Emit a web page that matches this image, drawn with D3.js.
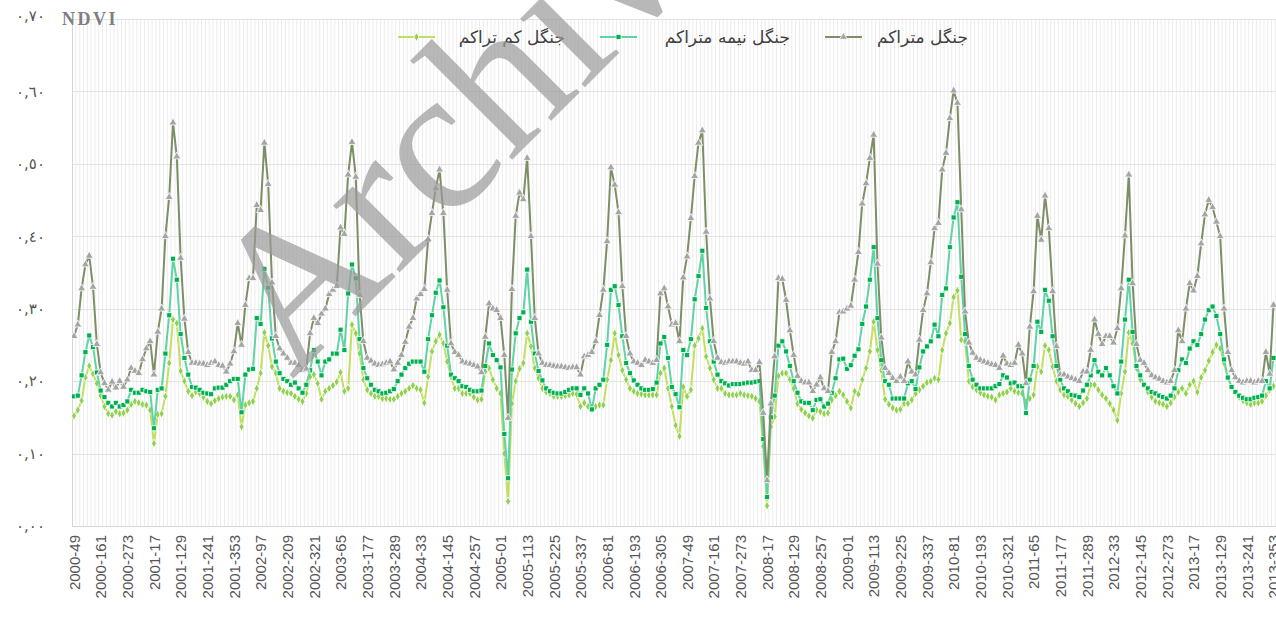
<!DOCTYPE html>
<html>
<head>
<meta charset="utf-8">
<script src="https://cdn.jsdelivr.net/npm/d3@7/dist/d3.min.js"></script>
<style>
  body { margin: 0; background: #fff; }
  svg { display: block; }
</style>
</head>
<body>
<div class="chart"></div>
<script>
// MODIS 16-day composites, one label every 7 points
var tickLabels = ["2000-49","2000-161","2000-273","2001-17","2001-129","2001-241","2001-353",
  "2002-97","2002-209","2002-321","2003-65","2003-177","2003-289","2004-33","2004-145",
  "2004-257","2005-01","2005-113","2005-225","2005-337","2006-81","2006-193","2006-305",
  "2007-49","2007-161","2007-273","2008-17","2008-129","2008-257","2009-01","2009-113",
  "2009-225","2009-337","2010-81","2010-193","2010-321","2011-65","2011-177","2011-289",
  "2012-33","2012-145","2012-273","2013-17","2013-129","2013-241","2013-353"];

var seriesNames = ["جنگل کم تراکم", "جنگل نیمه  متراکم", "جنگل متراکم"];

var yTicks = [0, 0.1, 0.2, 0.3, 0.4, 0.5, 0.6, 0.7];
var yTickLabels = ["٠,٠٠", "٠,١٠", "٠,٢٠", "٠,٣٠", "٠,٤٠", "٠,٥٠", "٠,٦٠", "٠,٧٠"];

// dense forest (one row per year)
var denseValues = [
  0.262,0.278,0.328,0.361,0.373,0.330,0.251,0.212,0.197,0.188,0.199,0.191,0.200,0.192,0.202,0.218,0.214,0.211,0.230,0.245,
  0.255,0.209,0.268,0.300,0.400,0.454,0.557,0.510,0.370,0.286,0.240,0.225,0.225,0.224,0.224,0.222,0.225,0.227,0.222,0.221,0.213,0.224,0.241,
  0.280,0.250,0.305,0.342,0.342,0.443,0.436,0.529,0.472,0.336,0.262,0.245,0.238,0.232,0.225,0.225,0.222,0.215,0.217,0.266,0.287,0.280,0.293,
  0.300,0.320,0.326,0.331,0.412,0.403,0.485,0.530,0.482,0.319,0.255,0.232,0.228,0.224,0.222,0.223,0.225,0.227,0.216,0.225,0.236,0.254,0.275,
  0.287,0.314,0.320,0.327,0.396,0.432,0.466,0.492,0.432,0.326,0.252,0.240,0.236,0.227,0.225,0.224,0.222,0.220,0.212,0.261,0.307,0.300,0.298,
  0.287,0.236,0.149,0.327,0.428,0.460,0.451,0.508,0.400,0.287,0.238,0.225,0.222,0.222,0.221,0.220,0.220,0.219,0.218,0.219,0.219,0.209,0.234,
  0.236,0.240,0.255,0.291,0.326,0.393,0.495,0.471,0.433,0.331,0.262,0.238,0.227,0.225,0.222,0.229,0.227,0.225,0.229,0.321,0.328,0.303,0.278,
  0.280,0.255,0.343,0.372,0.425,0.483,0.529,0.546,0.406,0.314,0.255,0.232,0.226,0.225,0.227,0.227,0.227,0.225,0.224,0.227,0.215,0.215,0.226,
  0.156,0.063,0.169,0.234,0.342,0.341,0.312,0.270,0.236,0.207,0.200,0.198,0.198,0.186,0.195,0.205,0.190,0.186,0.240,0.255,0.295,0.296,
  0.300,0.304,0.340,0.378,0.445,0.473,0.508,0.540,0.362,0.260,0.218,0.211,0.204,0.200,0.206,0.200,0.227,0.213,0.209,0.257,0.298,0.321,0.364,
  0.411,0.418,0.492,0.515,0.563,0.601,0.584,0.437,0.296,0.253,0.239,0.232,0.229,0.227,0.225,0.223,0.222,0.218,0.235,0.224,0.222,0.225,
  0.250,0.238,0.197,0.275,0.324,0.428,0.395,0.456,0.411,0.324,0.248,0.209,0.209,0.206,0.204,0.202,0.200,0.213,0.213,0.243,0.285,0.265,0.251,
  0.262,0.262,0.253,0.273,0.328,0.401,0.485,0.335,0.251,0.229,0.225,0.215,0.208,0.205,0.203,0.200,0.198,0.200,0.215,0.270,0.255,0.300,
  0.335,0.325,0.345,0.390,0.430,0.450,0.440,0.420,0.400,0.300,0.240,0.215,0.205,0.200,0.198,0.200,0.200,0.198,0.200,0.200,0.240,0.210,0.305
];

// semi-dense forest
var semiValues = [
  0.179,0.180,0.208,0.240,0.263,0.247,0.212,0.187,0.178,0.170,0.165,0.170,0.165,0.167,0.172,0.188,0.184,0.184,0.188,0.186,
  0.185,0.135,0.188,0.190,0.238,0.291,0.369,0.340,0.265,0.232,0.209,0.192,0.191,0.188,0.184,0.183,0.182,0.190,0.191,0.191,0.195,0.200,0.203,
  0.203,0.157,0.209,0.216,0.217,0.287,0.279,0.355,0.329,0.259,0.227,0.211,0.203,0.200,0.195,0.198,0.190,0.184,0.195,0.215,0.243,0.227,0.208,
  0.227,0.230,0.238,0.238,0.271,0.243,0.321,0.361,0.342,0.258,0.218,0.204,0.195,0.188,0.186,0.183,0.184,0.186,0.189,0.200,0.209,0.218,0.224,
  0.227,0.227,0.227,0.213,0.258,0.291,0.322,0.339,0.302,0.249,0.209,0.204,0.200,0.193,0.192,0.188,0.186,0.186,0.187,0.221,0.252,0.236,0.229,
  0.219,0.127,0.066,0.216,0.266,0.287,0.295,0.354,0.282,0.238,0.214,0.201,0.190,0.186,0.184,0.183,0.183,0.185,0.188,0.190,0.190,0.181,0.190,
  0.183,0.161,0.190,0.195,0.202,0.250,0.326,0.331,0.305,0.262,0.225,0.211,0.201,0.195,0.190,0.188,0.188,0.189,0.198,0.252,0.261,0.232,0.192,
  0.182,0.164,0.243,0.236,0.258,0.313,0.345,0.380,0.301,0.255,0.227,0.209,0.200,0.197,0.194,0.196,0.196,0.196,0.197,0.198,0.198,0.199,0.200,
  0.120,0.040,0.150,0.180,0.249,0.255,0.241,0.221,0.200,0.184,0.172,0.170,0.170,0.160,0.174,0.175,0.165,0.169,0.184,0.204,0.230,0.231,
  0.217,0.222,0.235,0.244,0.279,0.303,0.340,0.385,0.287,0.229,0.200,0.195,0.176,0.176,0.176,0.176,0.197,0.200,0.189,0.219,0.241,0.248,0.255,
  0.278,0.262,0.319,0.328,0.385,0.426,0.447,0.344,0.265,0.221,0.202,0.195,0.190,0.190,0.190,0.190,0.193,0.196,0.208,0.205,0.197,0.198,
  0.193,0.193,0.156,0.202,0.221,0.282,0.268,0.326,0.311,0.262,0.221,0.202,0.190,0.186,0.181,0.180,0.178,0.187,0.195,0.208,0.229,0.213,0.208,
  0.218,0.208,0.193,0.183,0.227,0.285,0.340,0.268,0.221,0.208,0.195,0.190,0.185,0.183,0.180,0.178,0.176,0.180,0.190,0.215,0.230,0.225,
  0.245,0.255,0.250,0.265,0.285,0.298,0.303,0.290,0.265,0.230,0.205,0.192,0.185,0.180,0.177,0.175,0.175,0.177,0.178,0.180,0.200,0.190,0.232
];

// sparse forest
var sparseValues = [
  0.152,0.160,0.173,0.205,0.221,0.210,0.197,0.180,0.165,0.155,0.153,0.158,0.155,0.156,0.160,0.168,0.172,0.170,0.168,0.167,
  0.160,0.114,0.154,0.155,0.179,0.225,0.285,0.280,0.214,0.200,0.186,0.180,0.185,0.183,0.178,0.172,0.169,0.173,0.176,0.178,0.179,0.179,0.174,
  0.181,0.137,0.167,0.170,0.172,0.190,0.211,0.267,0.249,0.220,0.211,0.190,0.186,0.184,0.183,0.179,0.175,0.172,0.183,0.206,0.209,0.197,0.175,
  0.186,0.190,0.194,0.199,0.212,0.186,0.190,0.278,0.266,0.238,0.202,0.188,0.183,0.179,0.179,0.176,0.176,0.175,0.175,0.179,0.183,0.186,0.190,
  0.194,0.190,0.188,0.170,0.206,0.241,0.255,0.264,0.252,0.227,0.206,0.190,0.190,0.183,0.183,0.183,0.178,0.174,0.175,0.213,0.218,0.202,0.190,
  0.183,0.100,0.034,0.169,0.200,0.217,0.225,0.266,0.248,0.218,0.204,0.190,0.185,0.183,0.179,0.179,0.179,0.180,0.181,0.183,0.182,0.165,0.170,
  0.165,0.161,0.165,0.167,0.167,0.202,0.229,0.266,0.236,0.215,0.202,0.190,0.186,0.183,0.182,0.181,0.181,0.181,0.181,0.211,0.218,0.190,0.165,
  0.139,0.124,0.192,0.179,0.188,0.249,0.259,0.273,0.234,0.218,0.202,0.190,0.190,0.183,0.181,0.181,0.181,0.183,0.181,0.180,0.179,0.176,0.172,
  0.110,0.028,0.137,0.151,0.207,0.211,0.211,0.202,0.190,0.169,0.161,0.156,0.152,0.149,0.160,0.158,0.155,0.156,0.174,0.180,0.186,0.181,
  0.172,0.163,0.186,0.182,0.202,0.218,0.241,0.282,0.243,0.215,0.175,0.168,0.163,0.160,0.161,0.169,0.169,0.174,0.183,0.188,0.193,0.198,0.200,
  0.204,0.202,0.243,0.266,0.280,0.316,0.325,0.257,0.255,0.200,0.192,0.188,0.184,0.181,0.179,0.178,0.174,0.181,0.183,0.185,0.190,0.186,
  0.184,0.183,0.172,0.176,0.181,0.220,0.213,0.249,0.243,0.220,0.200,0.188,0.181,0.179,0.174,0.169,0.165,0.170,0.176,0.195,0.195,0.188,0.181,
  0.176,0.169,0.160,0.146,0.183,0.213,0.267,0.252,0.218,0.202,0.195,0.185,0.178,0.172,0.170,0.168,0.165,0.170,0.178,0.185,0.190,0.183,
  0.195,0.200,0.185,0.205,0.215,0.228,0.240,0.250,0.245,0.225,0.205,0.192,0.185,0.178,0.173,0.170,0.168,0.170,0.170,0.172,0.180,0.188,0.193
];

var fullWidth = 1276;
var fullHeight = 622;
var plotLeft = 72;
var plotRight = 1276;
var n = denseValues.length;

var svg = d3
  .select(".chart")
  .append("svg")
  .attr("width", fullWidth)
  .attr("height", fullHeight)
  .style("background", "#fff");

var x = d3
  .scaleLinear()
  .domain([0, 315])
  .range([74, 1273.5]);

var y = d3
  .scaleLinear()
  .domain([0, 0.7])
  .range([526, 19]);

svg.append("clipPath")
  .attr("id", "plotClip")
  .append("rect")
  .attr("x", plotLeft)
  .attr("y", 0)
  .attr("width", plotRight - plotLeft)
  .attr("height", 540);

// vertical category gridlines (between points)
var grid = svg.append("g").attr("clip-path", "url(#plotClip)");
grid.selectAll("line.v")
  .data(d3.range(-1, n))
  .enter()
  .append("line")
  .attr("class", "v")
  .attr("x1", d => x(d + 0.5))
  .attr("x2", d => x(d + 0.5))
  .attr("y1", y(0.7))
  .attr("y2", y(0))
  .attr("stroke", "#ececec")
  .attr("stroke-width", 1);

// horizontal gridlines
grid.selectAll("line.h")
  .data(yTicks.slice(1))
  .enter()
  .append("line")
  .attr("class", "h")
  .attr("x1", plotLeft)
  .attr("x2", plotRight)
  .attr("y1", d => Math.round(y(d)) + 0.5)
  .attr("y2", d => Math.round(y(d)) + 0.5)
  .attr("stroke", "#e3e3e3")
  .attr("stroke-width", 1);

// left axis line
svg.append("line")
  .attr("x1", plotLeft + 0.5).attr("x2", plotLeft + 0.5)
  .attr("y1", y(0.7)).attr("y2", y(0))
  .attr("stroke", "#d4d4d4");

// y axis
var yAxis = svg.append("g")
  .attr("transform", `translate(${plotLeft}, 0)`)
  .call(d3.axisLeft(y)
    .tickValues(yTicks)
    .tickFormat((d, i) => yTickLabels[i])
    .tickSize(0)
    .tickPadding(27));
yAxis.select(".domain").remove();
yAxis.selectAll("text")
  .attr("fill", "#555")
  .style("font-family", "'DejaVu Sans', sans-serif")
  .style("font-size", "15px");
yAxis.selectAll(".tick")
  .filter(d => d === 0.7)
  .select("text")
  .attr("dy", "0.1em");

// x axis
var xAxis = svg.append("g")
  .attr("transform", `translate(0, ${y(0)})`)
  .call(d3.axisBottom(x)
    .tickValues(tickLabels.map((d, k) => k * 7))
    .tickFormat(d => tickLabels[d / 7])
    .tickSize(0));
xAxis.select(".domain")
  .attr("d", `M${plotLeft},0.5H${plotRight}`)
  .attr("stroke", "#d4d4d4");
xAxis.selectAll("text")
  .attr("transform", "rotate(-90)")
  .attr("x", -9)
  .attr("y", 0)
  .attr("dy", "0.35em")
  .style("text-anchor", "end")
  .attr("fill", "#555")
  .style("font-family", "'Liberation Sans', Arial, sans-serif")
  .style("font-size", "15px");

// axis title
svg.append("text")
  .attr("x", 62)
  .attr("y", 25)
  .text("NDVI")
  .attr("fill", "#7f7f7f")
  .style("font-family", "'Liberation Serif', serif")
  .style("font-weight", "bold")
  .style("font-size", "18px")
  .style("letter-spacing", "2.5px");

var series = [
  { name: seriesNames[0], values: sparseValues, line: "#c3df5f", fill: "#92d050", symbol: d3.symbolDiamond, size: 22 },
  { name: seriesNames[1], values: semiValues, line: "#5fd3a5", fill: "#00b050", symbol: d3.symbolSquare, size: 26 },
  { name: seriesNames[2], values: denseValues, line: "#7d8f66", fill: "#a5a5a5", symbol: d3.symbolTriangle, size: 28 }
];

var lineGen = d3.line()
  .x((d, i) => x(i))
  .y(d => y(d));

var plot = svg.append("g").attr("clip-path", "url(#plotClip)");

series.forEach(function(s) {
  plot.append("path")
    .datum(s.values)
    .attr("fill", "none")
    .attr("stroke", s.line)
    .attr("stroke-width", 2)
    .attr("stroke-linejoin", "round")
    .attr("d", lineGen);

  plot.selectAll(null)
    .data(s.values)
    .enter()
    .append("path")
    .attr("transform", (d, i) => `translate(${x(i)}, ${y(d)})`)
    .attr("d", d3.symbol().type(s.symbol).size(s.size))
    .attr("fill", s.fill)
    .attr("stroke", "#fff")
    .attr("stroke-width", 0.8);
});

// legend
var legendPos = [{ x: 398, tx: 565 }, { x: 600, tx: 790 }, { x: 825, tx: 968 }];
var legend = svg.append("g");
series.forEach(function(s, k) {
  var g = legend.append("g").attr("transform", `translate(${legendPos[k].x}, 37)`);
  g.append("line")
    .attr("x1", 0).attr("x2", 37)
    .attr("stroke", s.line)
    .attr("stroke-width", 2);
  g.append("path")
    .attr("transform", "translate(18.5, 0)")
    .attr("d", d3.symbol().type(s.symbol).size(s.size))
    .attr("fill", s.fill)
    .attr("stroke", "#fff")
    .attr("stroke-width", 0.8);
  legend.append("text")
    .attr("x", legendPos[k].tx)
    .attr("y", 43)
    .attr("direction", "rtl")
    .style("text-anchor", "start")
    .style("font-family", "'DejaVu Sans', sans-serif")
    .style("font-size", "17px")
    .attr("fill", "#404040")
    .text(s.name);
});

// watermark
svg.append("text")
  .attr("transform", "translate(292, 380) rotate(-45)")
  .text("Archive")
  .attr("fill", "#9a9a9a")
  .attr("fill-opacity", 0.7)
  .style("font-family", "'Liberation Serif', serif")
  .style("font-size", "205px");
</script>
</body>
</html>
